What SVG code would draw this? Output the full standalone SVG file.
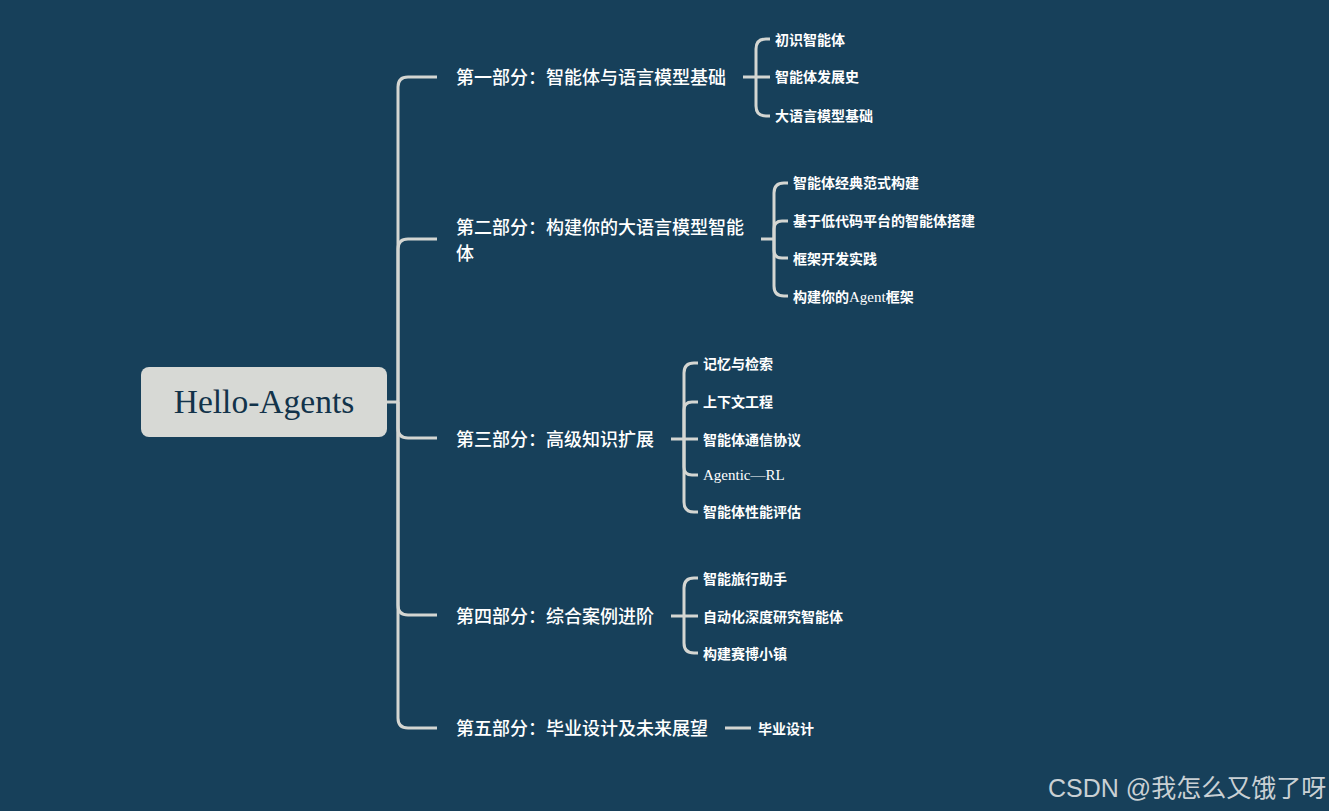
<svg xmlns="http://www.w3.org/2000/svg" width="1329" height="811" viewBox="0 0 1329 811">
<style>
.ln{fill:none;stroke:#d4d6d2;stroke-width:3;stroke-linecap:butt}
.part{font-family:"Noto Sans CJK SC","Noto Sans",sans-serif;font-size:18px;fill:#ffffff;font-weight:500}
.leaf{font-family:"Noto Sans CJK SC","Noto Sans",sans-serif;font-size:14px;fill:#ffffff;font-weight:700}
.serif{font-family:"Liberation Serif","DejaVu Serif","Noto Sans CJK SC",serif}
.lat{font-family:"Liberation Serif","DejaVu Serif",serif;font-weight:400;font-size:15px}
</style>
<rect width="1329" height="811" fill="#17405a"/>
<g id="connectors">
  <path class="ln" d="M387,402 H398"/>
  <path class="ln" d="M398,402 V87 Q398,77 408,77 H437"/>
  <path class="ln" d="M398,402 V249 Q398,239 408,239 H437"/>
  <path class="ln" d="M398,402 V428 Q398,438 408,438 H437"/>
  <path class="ln" d="M398,402 V605 Q398,615 408,615 H437"/>
  <path class="ln" d="M398,402 V718 Q398,728 408,728 H437"/>
  <path class="ln" d="M743,77 H756"/>
  <path class="ln" d="M756,77 V49 Q756,39 766,39 H770"/>
  <path class="ln" d="M756,77 H770"/>
  <path class="ln" d="M756,77 V106 Q756,116 766,116 H770"/>
  <path class="ln" d="M761,239 H774"/>
  <path class="ln" d="M774,239 V193 Q774,183 784,183 H788"/>
  <path class="ln" d="M774,239 V229 Q774,221 782,221 H788"/>
  <path class="ln" d="M774,239 V250 Q774,258 782,258 H788"/>
  <path class="ln" d="M774,239 V286 Q774,296 784,296 H788"/>
  <path class="ln" d="M671,439 H684"/>
  <path class="ln" d="M684,439 V373 Q684,363 694,363 H698"/>
  <path class="ln" d="M684,439 V410 Q684,402 692,402 H698"/>
  <path class="ln" d="M684,439 H698"/>
  <path class="ln" d="M684,439 V467 Q684,475 692,475 H698"/>
  <path class="ln" d="M684,439 V502 Q684,512 694,512 H698"/>
  <path class="ln" d="M671,616 H684"/>
  <path class="ln" d="M684,616 V588 Q684,578 694,578 H698"/>
  <path class="ln" d="M684,616 H698"/>
  <path class="ln" d="M684,616 V643 Q684,653 694,653 H698"/>
  <path class="ln" d="M725,728 H751"/>
</g>
<g id="root">
  <rect x="141" y="367" width="246" height="70" rx="8" fill="#d7d9d5"/>
  <text x="264" y="413" text-anchor="middle" class="serif" font-size="33.5" fill="#12334a">Hello-Agents</text>
</g>
<g id="part1">
  <text class="part" x="456" y="83.5">第一部分：智能体与语言模型基础</text>
</g>
<g id="part1-leaves">
  <text class="leaf" x="775" y="44.5">初识智能体</text>
  <text class="leaf" x="775" y="82">智能体发展史</text>
  <text class="leaf" x="775" y="120.5">大语言模型基础</text>
</g>
<g id="part2">
  <text class="part" x="456" y="234">第二部分：构建你的大语言模型智能</text>
  <text class="part" x="456" y="259.5">体</text>
</g>
<g id="part2-leaves">
  <text class="leaf" x="793" y="188">智能体经典范式构建</text>
  <text class="leaf" x="793" y="226">基于低代码平台的智能体搭建</text>
  <text class="leaf" x="793" y="263.5">框架开发实践</text>
  <text class="leaf" x="793" y="301.5">构建你的<tspan class="lat">Agent</tspan>框架</text>
</g>
<g id="part3">
  <text class="part" x="456" y="446">第三部分：高级知识扩展</text>
</g>
<g id="part3-leaves">
  <text class="leaf" x="703" y="368.5">记忆与检索</text>
  <text class="leaf" x="703" y="406.5">上下文工程</text>
  <text class="leaf" x="703" y="444.5">智能体通信协议</text>
  <text class="leaf lat" x="703" y="480">Agentic—RL</text>
  <text class="leaf" x="703" y="517">智能体性能评估</text>
</g>
<g id="part4">
  <text class="part" x="456" y="623">第四部分：综合案例进阶</text>
</g>
<g id="part4-leaves">
  <text class="leaf" x="703" y="583.5">智能旅行助手</text>
  <text class="leaf" x="703" y="621.5">自动化深度研究智能体</text>
  <text class="leaf" x="703" y="658.5">构建赛博小镇</text>
</g>
<g id="part5">
  <text class="part" x="456" y="735">第五部分：毕业设计及未来展望</text>
</g>
<g id="part5-leaves">
  <text class="leaf" x="758" y="733.5">毕业设计</text>
</g>
<text x="1048" y="797" font-family="'Liberation Sans','Noto Sans CJK SC',sans-serif" font-size="25" fill="#c9d0d4">CSDN @我怎么又饿了呀</text>
</svg>
